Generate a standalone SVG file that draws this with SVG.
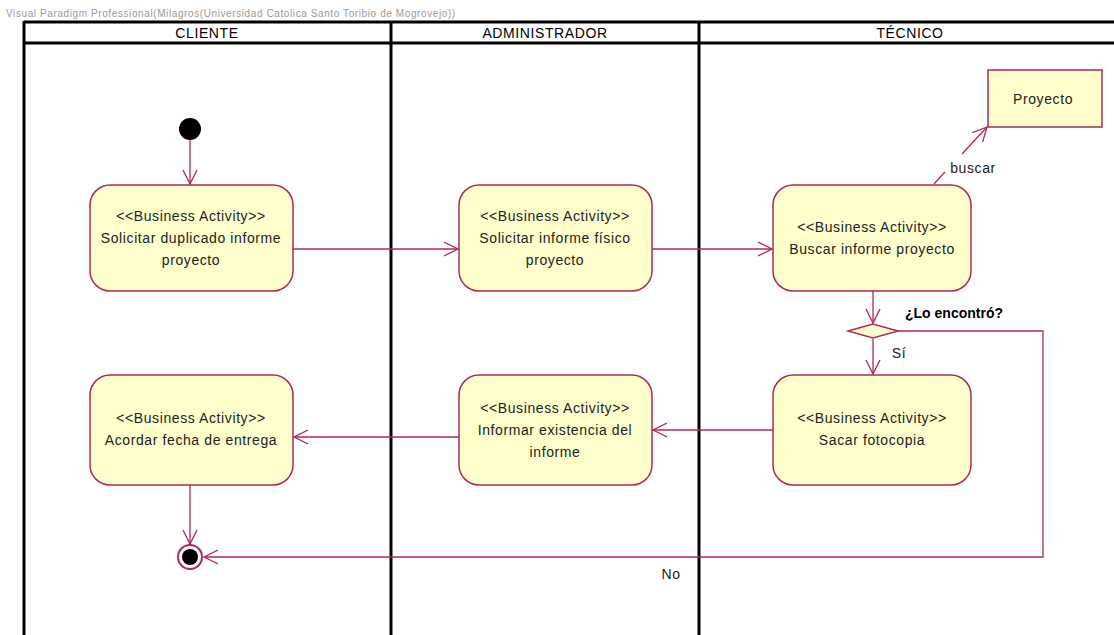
<svg xmlns="http://www.w3.org/2000/svg" width="1114" height="635" viewBox="0 0 1114 635">
<defs>
<style>
.lane{fill:none;stroke:#000;stroke-width:3}
.act{fill:#FFFFCC;stroke:#B0285A;stroke-width:1.5}
.t{font-family:"Liberation Sans",Arial,sans-serif;font-size:14px;letter-spacing:0.6px;fill:#222;text-anchor:middle}
.h{font-family:"Liberation Sans",Arial,sans-serif;font-size:14px;letter-spacing:0.6px;fill:#000;text-anchor:middle}
.c{fill:none;stroke:#B0285A;stroke-width:1.3}
</style>
<marker id="arr" markerWidth="16" markerHeight="16" refX="14" refY="8" orient="auto" markerUnits="userSpaceOnUse">
<path d="M0,1 L14,8 L0,15" fill="none" stroke="#B0285A" stroke-width="1.3"/>
</marker>
</defs>
<rect width="1114" height="635" fill="#fff"/>
<text x="6" y="17" style="font-family:'Liberation Sans',Arial,sans-serif;font-size:10px;letter-spacing:0.6px;fill:#999">Visual Paradigm Professional(Milagros(Universidad Catolica Santo Toribio de Mogrovejo))</text>
<g id="swimlanes">
<line class="lane" x1="24" y1="22" x2="1114" y2="22"/>
<line class="lane" x1="24" y1="43" x2="1114" y2="43"/>
<line class="lane" x1="24" y1="21" x2="24" y2="635"/>
<line class="lane" x1="391" y1="21" x2="391" y2="635"/>
<line class="lane" x1="699" y1="21" x2="699" y2="635"/>
<text class="h" x="207" y="38">CLIENTE</text>
<text class="h" x="545" y="38">ADMINISTRADOR</text>
<text class="h" x="910" y="38">TÉCNICO</text>
</g>
<g id="connectors">
<line class="c" x1="190" y1="140" x2="190" y2="184" marker-end="url(#arr)"/>
<line class="c" x1="293" y1="249" x2="458" y2="249" marker-end="url(#arr)"/>
<line class="c" x1="652" y1="249" x2="772" y2="249" marker-end="url(#arr)"/>
<line class="c" x1="934" y1="184" x2="945" y2="172"/>
<line class="c" x1="962" y1="154" x2="987" y2="127" marker-end="url(#arr)"/>
<text class="t" x="973" y="173">buscar</text>
<line class="c" x1="873" y1="291" x2="873" y2="323" marker-end="url(#arr)"/>
<line class="c" x1="873" y1="339" x2="873" y2="374" marker-end="url(#arr)"/>
<text class="t" x="899" y="358">Sí</text>
<polyline class="c" points="898,331 1043,331 1043,557 204,557" marker-end="url(#arr)"/>
<text class="t" x="671" y="579">No</text>
<line class="c" x1="773" y1="430" x2="653" y2="430" marker-end="url(#arr)"/>
<line class="c" x1="459" y1="437" x2="294" y2="437" marker-end="url(#arr)"/>
<line class="c" x1="190" y1="485" x2="190" y2="544" marker-end="url(#arr)"/>
</g>
<g id="initial"><circle cx="190" cy="129" r="11" fill="#000"/></g>
<g id="a1">
<rect class="act" x="90" y="185" width="203" height="106" rx="20"/>
<text class="t" x="191" y="221">&lt;&lt;Business Activity&gt;&gt;</text>
<text class="t" x="191" y="243">Solicitar duplicado informe</text>
<text class="t" x="191" y="265">proyecto</text>
</g>
<g id="a2">
<rect class="act" x="459" y="185" width="193" height="106" rx="20"/>
<text class="t" x="555" y="221">&lt;&lt;Business Activity&gt;&gt;</text>
<text class="t" x="555" y="243">Solicitar informe físico</text>
<text class="t" x="555" y="265">proyecto</text>
</g>
<g id="a3">
<rect class="act" x="773" y="185" width="198" height="106" rx="20"/>
<text class="t" x="872" y="232">&lt;&lt;Business Activity&gt;&gt;</text>
<text class="t" x="872" y="254">Buscar informe proyecto</text>
</g>
<g id="proyecto">
<rect class="act" x="988" y="70" width="114" height="57"/>
<text class="t" x="1043" y="104">Proyecto</text>
</g>
<g id="decision">
<polygon class="act" points="848,331 873,324 898,331 873,338"/>
<text x="954" y="318" style="font-family:'Liberation Sans',Arial,sans-serif;font-size:14px;font-weight:bold;fill:#000;text-anchor:middle">¿Lo encontró?</text>
</g>
<g id="a4">
<rect class="act" x="773" y="375" width="198" height="110" rx="20"/>
<text class="t" x="872" y="423">&lt;&lt;Business Activity&gt;&gt;</text>
<text class="t" x="872" y="445">Sacar fotocopia</text>
</g>
<g id="a5">
<rect class="act" x="459" y="375" width="193" height="110" rx="20"/>
<text class="t" x="555" y="413">&lt;&lt;Business Activity&gt;&gt;</text>
<text class="t" x="555" y="435">Informar existencia del</text>
<text class="t" x="555" y="457">informe</text>
</g>
<g id="a6">
<rect class="act" x="90" y="375" width="203" height="110" rx="20"/>
<text class="t" x="191" y="423">&lt;&lt;Business Activity&gt;&gt;</text>
<text class="t" x="191" y="445">Acordar fecha de entrega</text>
</g>
<g id="final">
<circle cx="190" cy="557" r="12" fill="#fff" stroke="#B0285A" stroke-width="2"/>
<circle cx="190" cy="557" r="8" fill="#000"/>
</g>
</svg>
